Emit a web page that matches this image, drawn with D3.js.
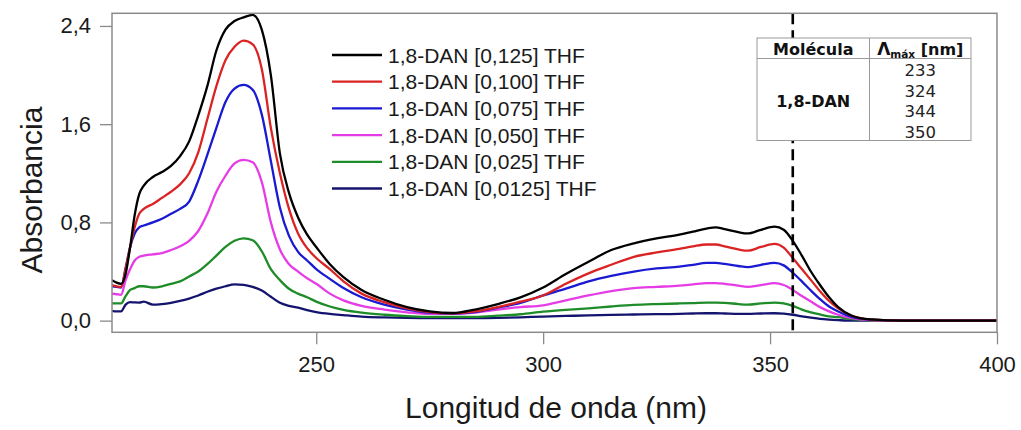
<!DOCTYPE html>
<html>
<head>
<meta charset="utf-8">
<script src="https://cdn.jsdelivr.net/npm/d3@7"></script>
<style>
  html, body { margin: 0; padding: 0; background: #fff; }
  svg { display: block; }
</style>
</head>
<body>
<svg id="chart" width="1021" height="430"></svg>
<script>
// Wavelength grid (nm) shared by every spectrum
const wavelengths = [205,206,207,208,209,210,211,212,214,216,218,220,222,224,226,228,230,232,234,236,238,240,242,244,246,248,250,253,256,260,265,270,275,280,285,290,295,300,305,310,315,320,325,330,333,336,338,340,343,345,348,351,353,355,357,359,361,363,365,368,372,380,390,400];

// Absorbance of 1,8-DAN in THF at each concentration
const abs0125 = [0.33,0.31,0.30,0.38,0.60,0.86,1.03,1.10,1.17,1.21,1.26,1.34,1.46,1.67,1.91,2.20,2.37,2.44,2.47,2.49,2.37,2.00,1.36,1.04,0.84,0.70,0.60,0.46,0.355,0.25,0.17,0.11,0.075,0.062,0.09,0.135,0.19,0.27,0.38,0.48,0.575,0.63,0.67,0.70,0.725,0.75,0.76,0.745,0.72,0.71,0.74,0.765,0.74,0.65,0.53,0.40,0.29,0.19,0.11,0.04,0.01,0.0,0.0,0.0];
const abs0100 = [0.29,0.28,0.275,0.42,0.60,0.76,0.87,0.91,0.95,1.00,1.05,1.11,1.20,1.37,1.64,1.91,2.12,2.23,2.28,2.25,2.05,1.57,1.20,0.91,0.71,0.59,0.51,0.42,0.32,0.22,0.15,0.10,0.07,0.06,0.075,0.11,0.155,0.205,0.30,0.385,0.455,0.52,0.555,0.585,0.605,0.62,0.62,0.605,0.58,0.57,0.60,0.625,0.595,0.51,0.42,0.33,0.24,0.16,0.10,0.04,0.01,0.0,0.0,0.0];
const abs0075 = [0.28,0.275,0.27,0.43,0.60,0.71,0.76,0.775,0.80,0.83,0.87,0.91,0.97,1.14,1.35,1.57,1.78,1.89,1.92,1.88,1.68,1.30,0.92,0.69,0.56,0.49,0.42,0.34,0.265,0.19,0.13,0.09,0.065,0.058,0.07,0.105,0.145,0.205,0.26,0.32,0.365,0.40,0.425,0.44,0.455,0.47,0.47,0.462,0.445,0.435,0.455,0.47,0.45,0.39,0.32,0.245,0.175,0.115,0.075,0.03,0.008,0.0,0.0,0.0];
const abs0050 = [0.22,0.215,0.21,0.33,0.42,0.49,0.52,0.53,0.54,0.55,0.575,0.605,0.65,0.73,0.87,1.05,1.18,1.28,1.31,1.29,1.13,0.80,0.58,0.46,0.40,0.345,0.30,0.22,0.165,0.12,0.09,0.068,0.055,0.055,0.065,0.09,0.11,0.125,0.165,0.205,0.24,0.265,0.275,0.285,0.295,0.305,0.305,0.30,0.285,0.275,0.29,0.305,0.29,0.25,0.20,0.155,0.11,0.075,0.048,0.02,0.005,0.0,0.0,0.0];
const abs0025 = [0.14,0.14,0.14,0.20,0.25,0.265,0.28,0.28,0.27,0.28,0.30,0.32,0.36,0.40,0.46,0.53,0.60,0.65,0.67,0.655,0.565,0.42,0.33,0.26,0.22,0.19,0.155,0.115,0.088,0.065,0.048,0.037,0.03,0.03,0.03,0.04,0.052,0.073,0.088,0.10,0.115,0.128,0.135,0.14,0.143,0.147,0.147,0.145,0.135,0.13,0.14,0.147,0.14,0.12,0.09,0.068,0.05,0.035,0.028,0.012,0.003,0.0,0.0,0.0];
const abs00125 = [0.08,0.075,0.075,0.13,0.15,0.148,0.147,0.155,0.13,0.135,0.145,0.16,0.18,0.205,0.235,0.26,0.28,0.295,0.292,0.275,0.245,0.195,0.145,0.12,0.105,0.085,0.07,0.055,0.045,0.033,0.026,0.022,0.02,0.02,0.02,0.022,0.027,0.033,0.038,0.043,0.047,0.05,0.053,0.055,0.058,0.06,0.06,0.058,0.055,0.055,0.058,0.06,0.057,0.048,0.035,0.024,0.014,0.008,0.004,0.0,0.0,0.0,0.0,0.0];

const seriesNames = ["1,8-DAN [0,125] THF","1,8-DAN [0,100] THF","1,8-DAN [0,075] THF","1,8-DAN [0,050] THF","1,8-DAN [0,025] THF","1,8-DAN [0,0125] THF"];
const seriesValues = [abs0125, abs0100, abs0075, abs0050, abs0025, abs00125];
const seriesColors = ["#000000","#dc2323","#1a1ad2","#e63ce6","#1e8c28","#14146e"];

const xTicks = [250, 300, 350, 400];
const yTicks = [0, 0.8, 1.6, 2.4];
const markerWavelength = 355;

// Inset table of absorption maxima
const tableHeader = ["Molécula", "máx"];
const tableMolecule = "1,8-DAN";
const tableMaxima = ["233", "324", "344", "350"];

const svg = d3.select("#chart");
const plotLeft = 112, plotRight = 997, plotTop = 13.3, plotBottom = 332.3;

const x = d3.scaleLinear().domain([205, 400]).range([plotLeft, plotRight]);
const y = d3.scaleLinear().domain([-0.095, 2.503]).range([plotBottom, plotTop]);

const sansFont = "'Liberation Sans', Arial, sans-serif";
const tableFont = "'DejaVu Sans', Verdana, sans-serif";

svg.append("defs").append("clipPath").attr("id", "plotClip")
  .append("rect").attr("x", plotLeft).attr("y", plotTop)
  .attr("width", plotRight - plotLeft).attr("height", plotBottom - plotTop);

// Spectra
const line = d3.line()
  .x((d, i) => x(wavelengths[i]))
  .y(d => y(d))
  .curve(d3.curveMonotoneX);

const plot = svg.append("g").attr("clip-path", "url(#plotClip)");
seriesValues.slice().reverse().forEach((vals, k) => {
  const idx = seriesValues.length - 1 - k;
  plot.append("path")
    .datum(vals)
    .attr("d", line)
    .attr("fill", "none")
    .attr("stroke", seriesColors[idx])
    .attr("stroke-width", 2.3)
    .attr("stroke-linejoin", "round");
});

// Dashed marker line
svg.append("line")
  .attr("x1", x(markerWavelength)).attr("x2", x(markerWavelength))
  .attr("y1", plotTop).attr("y2", plotBottom)
  .attr("stroke", "#000").attr("stroke-width", 2.6)
  .attr("stroke-dasharray", "11,6");

// Frame
svg.append("rect")
  .attr("x", plotLeft).attr("y", plotTop)
  .attr("width", plotRight - plotLeft).attr("height", plotBottom - plotTop)
  .attr("fill", "none").attr("stroke", "#8a8a8a").attr("stroke-width", 1.5);

// Axes
const fmt = d => d.toFixed(1).replace(".", ",");
const yAxis = svg.append("g")
  .attr("transform", `translate(${plotLeft},0)`)
  .call(d3.axisLeft(y).tickValues(yTicks).tickFormat(fmt).tickSize(12).tickPadding(9));
const xAxis = svg.append("g")
  .attr("transform", `translate(0,${plotBottom})`)
  .call(d3.axisBottom(x).tickValues(xTicks).tickFormat(d3.format("d")).tickSize(12).tickPadding(12));
[yAxis, xAxis].forEach(g => {
  g.select(".domain").remove();
  g.selectAll(".tick line").attr("stroke", "#8a8a8a").attr("stroke-width", 1.3);
  g.selectAll(".tick text").attr("fill", "#1a1a1a")
    .style("font-family", sansFont).style("font-size", "22px");
});

// Axis titles
svg.append("text")
  .attr("x", 556).attr("y", 418)
  .attr("text-anchor", "middle")
  .style("font-family", sansFont).style("font-size", "30px").attr("fill", "#1a1a1a")
  .text("Longitud de onda (nm)");
svg.append("text")
  .attr("transform", "translate(42,190) rotate(-90)")
  .attr("text-anchor", "middle")
  .style("font-family", sansFont).style("font-size", "30px").attr("fill", "#1a1a1a")
  .text("Absorbancia");

// Legend
const legend = svg.append("g");
seriesNames.forEach((name, i) => {
  const ly = 55 + i * 26.7;
  legend.append("line")
    .attr("x1", 332).attr("x2", 382).attr("y1", ly).attr("y2", ly)
    .attr("stroke", seriesColors[i]).attr("stroke-width", 2.3);
  legend.append("text")
    .attr("x", 388).attr("y", ly).attr("dy", "0.36em")
    .style("font-family", sansFont).style("font-size", "21px").attr("fill", "#1a1a1a")
    .text(name);
});

// Inset table
const tL = 757, tR = 971, tT = 38, tB = 140.5, tMid = 869.5, tHead = 58.5;
const tbl = svg.append("g");
tbl.append("rect").attr("x", tL).attr("y", tT).attr("width", tR - tL).attr("height", tB - tT)
  .attr("fill", "#fff").attr("stroke", "#9a9a9a").attr("stroke-width", 1);
tbl.append("line").attr("x1", tL).attr("x2", tR).attr("y1", tHead).attr("y2", tHead)
  .attr("stroke", "#9a9a9a").attr("stroke-width", 1);
tbl.append("line").attr("x1", tMid).attr("x2", tMid).attr("y1", tT).attr("y2", tB)
  .attr("stroke", "#9a9a9a").attr("stroke-width", 1);
tbl.append("text")
  .attr("x", (tL + tMid) / 2).attr("y", 54.5).attr("text-anchor", "middle")
  .style("font-family", tableFont).style("font-size", "16px").style("font-weight", "bold")
  .attr("fill", "#111").text(tableHeader[0]);
const hdr = tbl.append("text")
  .attr("x", (tMid + tR) / 2).attr("y", 54.5).attr("text-anchor", "middle")
  .style("font-family", tableFont).style("font-size", "16px").style("font-weight", "bold")
  .attr("fill", "#111");
hdr.append("tspan").style("font-size", "17px").text("Λ");
hdr.append("tspan").attr("dy", 3).style("font-size", "10.5px").text(tableHeader[1]);
hdr.append("tspan").attr("dy", -3).text(" [nm]");
tbl.append("text")
  .attr("x", (tL + tMid) / 2).attr("y", 101).attr("dy", "0.36em").attr("text-anchor", "middle")
  .style("font-family", tableFont).style("font-size", "16px").style("font-weight", "bold")
  .attr("fill", "#111").text(tableMolecule);
tableMaxima.forEach((v, i) => {
  tbl.append("text")
    .attr("x", (tMid + tR) / 2).attr("y", 76 + i * 20.5).attr("text-anchor", "middle")
    .style("font-family", tableFont).style("font-size", "16.5px")
    .attr("fill", "#222").text(v);
});
</script>
</body>
</html>
